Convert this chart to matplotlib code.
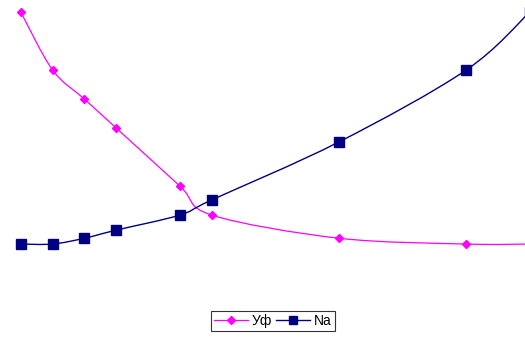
import matplotlib
matplotlib.use("Agg")
import matplotlib.pyplot as plt
from matplotlib.path import Path
import matplotlib.patches as mpatches
from matplotlib.lines import Line2D
import numpy as np

matplotlib.rc("font", **{"family": "Liberation Sans", "size": 9})

# measurement points (non-uniform spacing)
x_vals  = [0, 1, 2, 3, 5, 6, 10, 14, 16]
uf_vals = [100, 75, 62.5, 50, 25, 12.5, 2.5, 0, 0]
na_vals = [0, 0, 2.5, 6, 12.5, 19, 44, 75, 100]

UF_COLOR = "#ff00ff"
NA_COLOR = "#000080"


def smooth_path(xs, ys):
    """Bezier path through the points, Catmull-Rom style tangents."""
    pts = np.column_stack([xs, ys]).astype(float)
    verts = [pts[0]]
    codes = [Path.MOVETO]
    n = len(pts)
    for i in range(n - 1):
        p0 = pts[i - 1] if i > 0 else pts[i]
        p1 = pts[i]
        p2 = pts[i + 1]
        p3 = pts[i + 2] if i + 2 < n else pts[i + 1]
        c1 = p1 + (p2 - p0) / 6.0
        c2 = p2 - (p3 - p1) / 6.0
        verts += [c1, c2, p2]
        codes += [Path.CURVE4] * 3
    return Path(verts, codes)


fig = plt.figure(figsize=(5.25, 3.41), dpi=100)
ax = fig.add_axes([0, 0, 1, 1])
ax.set_xlim(-0.653, 15.85)
ax.set_ylim(-41.8, 105.2)
ax.axis("off")

ax.add_patch(mpatches.PathPatch(smooth_path(x_vals, uf_vals), fill=False,
                                edgecolor=UF_COLOR, lw=0.9, zorder=2))
ax.plot(x_vals, uf_vals, ls="none", marker="D", ms=4.5, color=UF_COLOR,
        clip_on=False, zorder=3)

ax.add_patch(mpatches.PathPatch(smooth_path(x_vals, na_vals), fill=False,
                                edgecolor=NA_COLOR, lw=1.0, zorder=2))
ax.plot(x_vals, na_vals, ls="none", marker="s", ms=7, color=NA_COLOR,
        clip_on=False, zorder=3)

handles = [
    Line2D([], [], color=UF_COLOR, lw=0.9, marker="D", ms=4),
    Line2D([], [], color=NA_COLOR, lw=1.0, marker="s", ms=6),
]
leg = fig.legend(handles, ["Уф", "Na"], ncol=2, loc="center",
                 bbox_to_anchor=(273 / 525, 1 - 321 / 341),
                 frameon=True, fancybox=False, fontsize=10,
                 handlelength=2.4, handletextpad=0.3, columnspacing=0.3,
                 borderpad=0.25, borderaxespad=0)
leg.get_frame().set_edgecolor("black")
leg.get_frame().set_linewidth(0.8)

fig.savefig("out.png", dpi=100)
